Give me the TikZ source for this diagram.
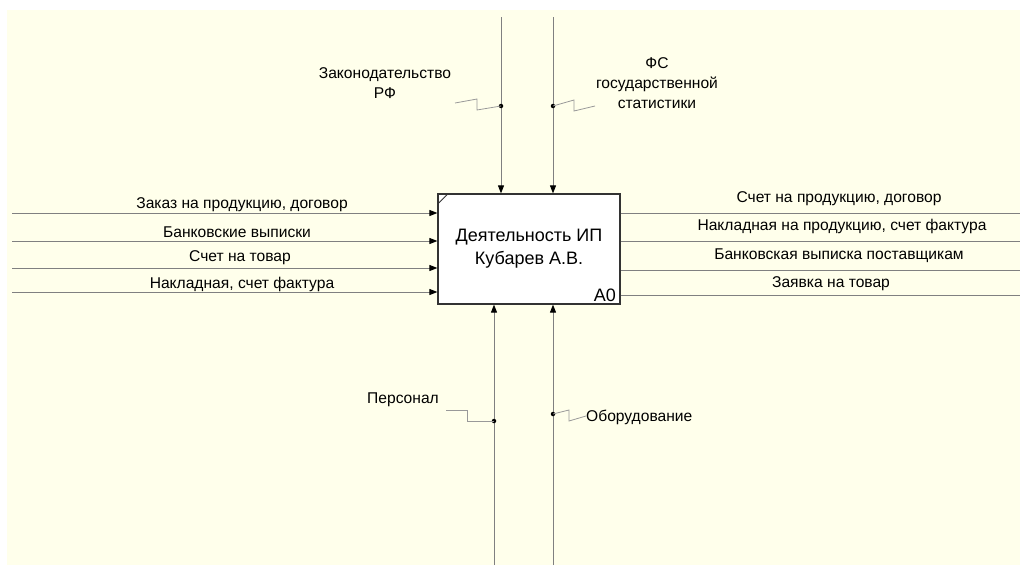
\documentclass[tikz,border=0pt]{standalone}
\usepackage{fontspec}
\setmainfont{Liberation Sans}
\usetikzlibrary{arrows.meta,positioning,calc}
\definecolor{paper}{RGB}{255,255,235}
\definecolor{flowgray}{RGB}{128,128,128}
\tikzset{
actbox/.style={draw=black!80, line width=1.2pt, fill=white, minimum width=182pt, minimum height=110pt, inner sep=0pt, align=center, font=\fontsize{18}{23}\selectfont},
lbl/.style={inner sep=1pt, align=center, font=\fontsize{15.6}{20}\selectfont},
flow/.style={draw=flowgray, line width=0.9pt},
arr/.style={flow, -{Triangle[length=8pt, width=6pt, color=black]}},
squig/.style={draw=flowgray!80, line width=0.8pt},
tdot/.style={circle, fill=black, inner sep=0pt, minimum size=4.5pt}
}
\begin{document}
\begin{tikzpicture}[x=1pt, y=-1pt]
\fill[white] (0,0) rectangle (1020,565);
\fill[paper] (7,10) rectangle (1020,565);
\useasboundingbox (0,0) rectangle (1020,565);
\node[actbox] (act) at (529,249) {Деятельность ИП\\Кубарев А.В.};
\node[lbl, anchor=base east, font=\fontsize{18}{22}\selectfont] (a0) at (617,301) {A0};
\draw[black!80, line width=0.8pt] ($(act.north west)+(0,11)$) -- ($(act.north west)+(11,0)$);
\foreach \n/\y in {1/213,2/241,3/268,4/292}
\coordinate (in\n) at (12,\y);
\foreach \n in {1,...,4}
\draw[arr] (in\n) -- (in\n -| act.west);
\node[lbl] (order) at (242,205) {Заказ на продукцию, договор};
\node[lbl] (bank) at (237,232) {Банковские выписки};
\node[lbl] (bill) at (240,258) {Счет на товар};
\node[lbl] (waybill) at (242,284) {Накладная, счет фактура};
\foreach \n/\y in {1/213,2/241,3/270,4/295}
\coordinate (out\n) at (1020,\y);
\foreach \n in {1,...,4}
\draw[flow] (out\n -| act.east) -- (out\n);
\node[lbl] (invoice) at (839,199) {Счет на продукцию, договор};
\node[lbl] (outwaybill) at (842,226) {Накладная на продукцию, счет фактура};
\node[lbl] (payment) at (839,256) {Банковская выписка поставщикам};
\node[lbl] (request) at (831,284) {Заявка на товар};
\coordinate (c1) at (501,17);
\coordinate (c2) at (553,17);
\draw[arr] (c1) -- (c1 |- act.north);
\draw[arr] (c2) -- (c2 |- act.north);
\node[tdot] (d1) at (501,106) {};
\node[tdot] (d2) at (553,106) {};
\node[lbl] (law) at (385,83) {Законодательство\\РФ};
\node[lbl] (stat) at (657,83) {ФС\\государственной\\статистики};
\draw[squig] (d1.center) -- ++(-24,4) -- ++(0,-11) -- ++(-22,4);
\draw[squig] (d2.center) -- ++(21,-6) -- ++(0,11) -- ++(21,-5);
\coordinate (m1) at (494,565);
\coordinate (m2) at (553,565);
\draw[arr] (m1) -- (m1 |- act.south);
\draw[arr] (m2) -- (m2 |- act.south);
\node[tdot] (d3) at (494,421) {};
\node[tdot] (d4) at (553,414) {};
\node[lbl] (staff) at (403,400) {Персонал};
\node[lbl, anchor=west, inner sep=0pt] (equip) at (586,417) {Оборудование};
\draw[squig] (d3.center) -- ++(-27,0) -- ++(0,-11) -- ++(-21,0);
\draw[squig] (d4.center) -- ++(16,-4) -- ++(0,11) -- ++(17,-5);
\end{tikzpicture}
\end{document}
